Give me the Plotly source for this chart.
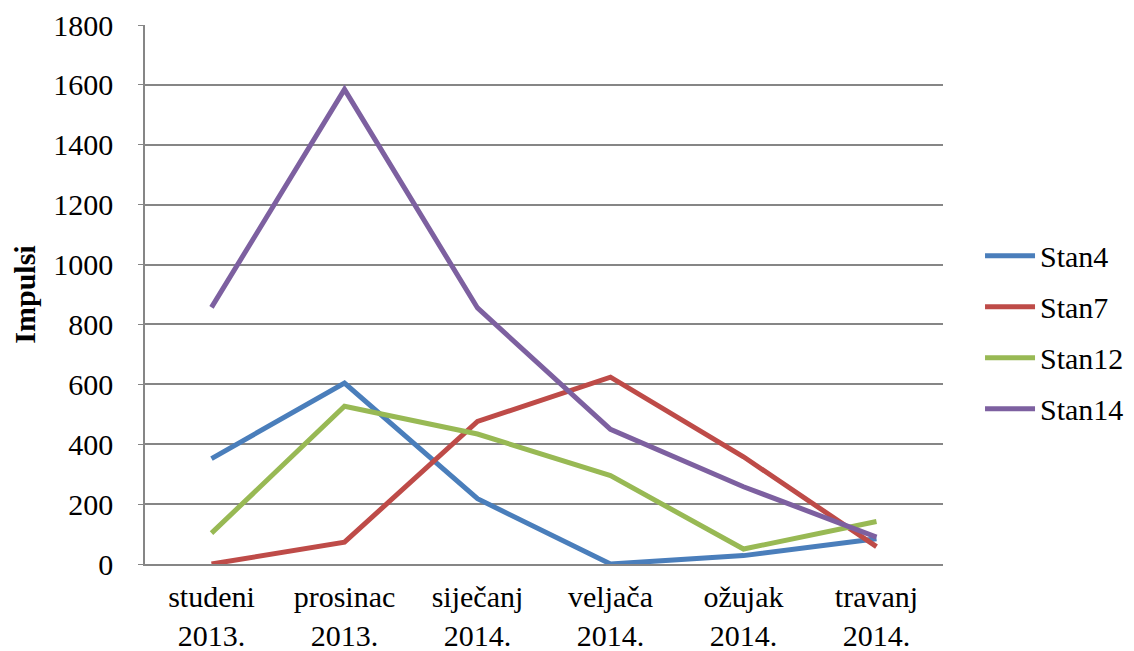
import plotly.graph_objects as go

categories = ["studeni<br>2013.", "prosinac<br>2013.", "siječanj<br>2014.",
              "veljača<br>2014.", "ožujak<br>2014.", "travanj<br>2014."]
stan4 = [352, 604, 218, 0, 28, 84]
stan7 = [0, 73, 476, 624, 358, 58]
stan12 = [103, 527, 434, 295, 50, 142]
stan14 = [857, 1585, 855, 450, 258, 90]

series = [("Stan4", stan4, "#4A7EBB"), ("Stan7", stan7, "#BE4B48"),
          ("Stan12", stan12, "#98B954"), ("Stan14", stan14, "#7D60A0")]

fig = go.Figure()
for name, vals, col in series:
    fig.add_trace(go.Scatter(x=categories, y=vals, name=name, mode="lines",
                             legendgroup=name,
                             line=dict(color=col, width=5)))

fam = "Liberation Serif"
fs = 30
fig.update_layout(
    width=1134, height=651,
    margin=dict(l=137, r=199, t=17, b=95, autoexpand=False),
    paper_bgcolor="white", plot_bgcolor="white",
    font=dict(family=fam, size=fs, color="black"),
    legend=dict(x=1.0464, y=0.43, xanchor="left", yanchor="middle",
                font=dict(family=fam, size=fs, color="black"),
                tracegroupgap=9, itemwidth=50),
    xaxis=dict(type="category", range=[-0.5, 5.5], showgrid=False,
               showline=True, linecolor="#868686", linewidth=1.5,
               ticks="", automargin=False, ticklabelstandoff=5,
               tickfont=dict(family=fam, size=fs, color="black")),
    yaxis=dict(range=[0, 1800], dtick=200, showgrid=True, gridcolor="#868686",
               gridwidth=1.5, showline=True, linecolor="#868686", linewidth=1.5,
               ticks="outside", ticklen=5, tickcolor="#868686",
               ticklabelstandoff=19, zeroline=False, automargin=False,
               tickfont=dict(family=fam, size=fs, color="black"),
               title=dict(text="<b>Impulsi</b>",
                          font=dict(family=fam, size=fs, color="black"),
                          standoff=10)),
)
fig.write_html("out.html")
